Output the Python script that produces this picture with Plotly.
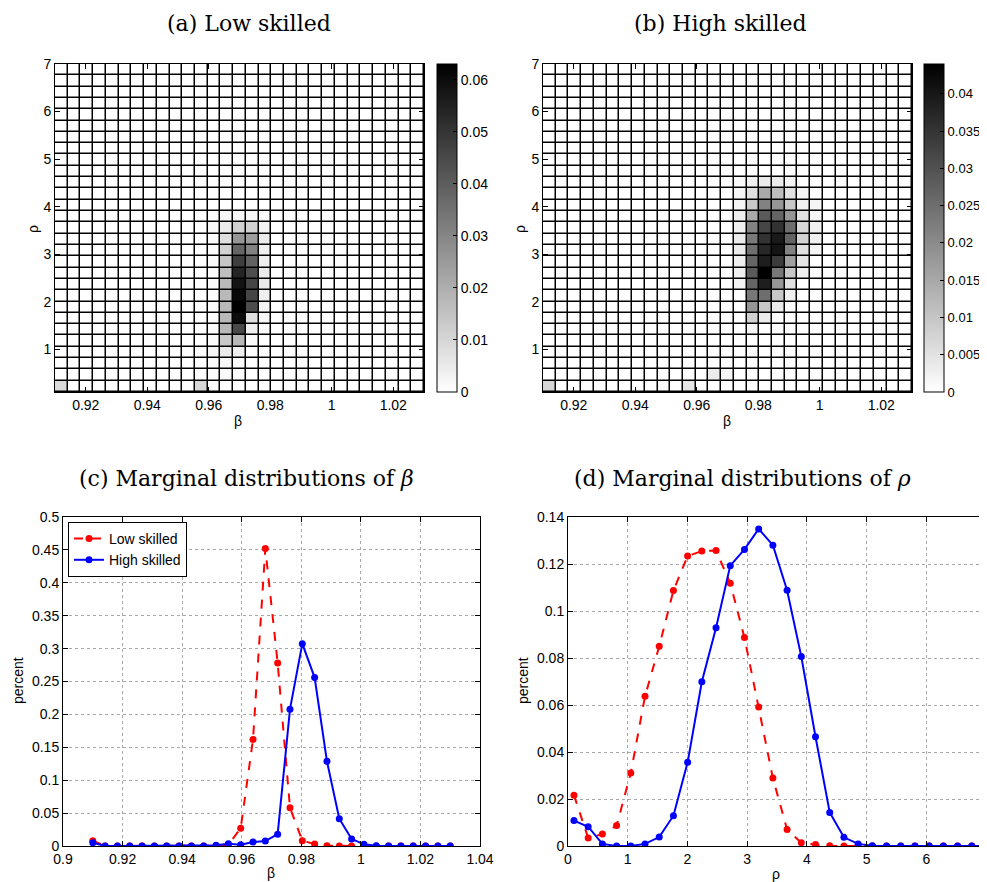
import plotly.graph_objects as go

# ---------------- data ----------------
beta_grid = [0.9100, 0.914138, 0.918276, 0.922414, 0.926552, 0.930690, 0.934828, 0.938966,
             0.943103, 0.947241, 0.951379, 0.955517, 0.959655, 0.963793, 0.967931, 0.972069,
             0.976207, 0.980345, 0.984483, 0.988621, 0.992759, 0.996897, 1.001034, 1.005172,
             1.009310, 1.013448, 1.017586, 1.021724, 1.025862, 1.0300]
rho_grid = [0.1, 0.3379, 0.5759, 0.8138, 1.0517, 1.2897, 1.5276, 1.7655, 2.0034, 2.2414,
            2.4793, 2.7172, 2.9552, 3.1931, 3.4310, 3.6690, 3.9069, 4.1448, 4.3828, 4.6207,
            4.8586, 5.0966, 5.3345, 5.5724, 5.8103, 6.0483, 6.2862, 6.5241, 6.7621, 7.0]

# joint distributions shown by pcolor (rows = rho cells from bottom, cols = beta cells)
z_low = [
    [0.009, 0, 0, 0, 0, 0, 0, 0, 0, 0, 0, 0.010, 0.001, 0, 0, 0, 0, 0, 0, 0, 0, 0, 0, 0, 0, 0, 0, 0, 0],
    [0, 0, 0, 0, 0, 0, 0, 0, 0, 0, 0, 0, 0.001, 0.001, 0, 0, 0, 0, 0, 0, 0, 0, 0, 0, 0, 0, 0, 0, 0],
    [0, 0, 0, 0, 0, 0, 0, 0, 0, 0, 0, 0, 0.0015, 0.002, 0, 0, 0, 0, 0, 0, 0, 0, 0, 0, 0, 0, 0, 0, 0],
    [0, 0, 0, 0, 0, 0, 0, 0, 0, 0, 0, 0, 0.0025, 0.005, 0.004, 0, 0, 0, 0, 0, 0, 0, 0, 0, 0, 0, 0, 0, 0],
    [0, 0, 0, 0, 0, 0, 0, 0, 0, 0, 0, 0, 0.001, 0.0136, 0.0175, 0.001, 0, 0, 0, 0, 0, 0, 0, 0, 0, 0, 0, 0, 0],
    [0, 0, 0, 0, 0, 0, 0, 0, 0, 0, 0, 0, 0.001, 0.0175, 0.045, 0.004, 0.001, 0, 0, 0, 0, 0, 0, 0, 0, 0, 0, 0, 0],
    [0, 0, 0, 0, 0, 0, 0, 0, 0, 0, 0, 0, 0.001, 0.0175, 0.060, 0.008, 0.002, 0, 0, 0, 0, 0, 0, 0, 0, 0, 0, 0, 0],
    [0, 0, 0, 0, 0, 0, 0, 0, 0, 0, 0, 0, 0.001, 0.0175, 0.063, 0.044, 0.003, 0, 0, 0, 0, 0, 0, 0, 0, 0, 0, 0, 0],
    [0, 0, 0, 0, 0, 0, 0, 0, 0, 0, 0, 0, 0.001, 0.0173, 0.061, 0.046, 0.004, 0, 0, 0, 0, 0, 0, 0, 0, 0, 0, 0, 0],
    [0, 0, 0, 0, 0, 0, 0, 0, 0, 0, 0, 0, 0.001, 0.017, 0.058, 0.046, 0.005, 0, 0, 0, 0, 0, 0, 0, 0, 0, 0, 0, 0],
    [0, 0, 0, 0, 0, 0, 0, 0, 0, 0, 0, 0, 0.001, 0.016, 0.054, 0.044, 0.005, 0, 0, 0, 0, 0, 0, 0, 0, 0, 0, 0, 0],
    [0, 0, 0, 0, 0, 0, 0, 0, 0, 0, 0, 0, 0.001, 0.014, 0.048, 0.039, 0.004, 0, 0, 0, 0, 0, 0, 0, 0, 0, 0, 0, 0],
    [0, 0, 0, 0, 0, 0, 0, 0, 0, 0, 0, 0, 0.001, 0.011, 0.038, 0.031, 0.004, 0, 0, 0, 0, 0, 0, 0, 0, 0, 0, 0, 0],
    [0, 0, 0, 0, 0, 0, 0, 0, 0, 0, 0, 0, 0.0015, 0.008, 0.026, 0.024, 0.005, 0, 0, 0, 0, 0, 0, 0, 0, 0, 0, 0, 0],
    [0, 0, 0, 0, 0, 0, 0, 0, 0, 0, 0, 0, 0.002, 0.005, 0.011, 0.011, 0.003, 0, 0, 0, 0, 0, 0, 0, 0, 0, 0, 0, 0],
    [0, 0, 0, 0, 0, 0, 0, 0, 0, 0, 0, 0, 0.001, 0.002, 0.002, 0.002, 0.001, 0, 0, 0, 0, 0, 0, 0, 0, 0, 0, 0, 0],
    [0, 0, 0, 0, 0, 0, 0, 0, 0, 0, 0, 0, 0, 0, 0, 0, 0, 0, 0, 0, 0, 0, 0, 0, 0, 0, 0, 0, 0],
    [0, 0, 0, 0, 0, 0, 0, 0, 0, 0, 0, 0, 0, 0, 0, 0, 0, 0, 0, 0, 0, 0, 0, 0, 0, 0, 0, 0, 0],
    [0, 0, 0, 0, 0, 0, 0, 0, 0, 0, 0, 0, 0, 0, 0, 0, 0, 0, 0, 0, 0, 0, 0, 0, 0, 0, 0, 0, 0],
    [0, 0, 0, 0, 0, 0, 0, 0, 0, 0, 0, 0, 0, 0, 0, 0, 0, 0, 0, 0, 0, 0, 0, 0, 0, 0, 0, 0, 0],
    [0, 0, 0, 0, 0, 0, 0, 0, 0, 0, 0, 0, 0, 0, 0, 0, 0, 0, 0, 0, 0, 0, 0, 0, 0, 0, 0, 0, 0],
    [0, 0, 0, 0, 0, 0, 0, 0, 0, 0, 0, 0, 0, 0, 0, 0, 0, 0, 0, 0, 0, 0, 0, 0, 0, 0, 0, 0, 0],
    [0, 0, 0, 0, 0, 0, 0, 0, 0, 0, 0, 0, 0, 0, 0, 0, 0, 0, 0, 0, 0, 0, 0, 0, 0, 0, 0, 0, 0],
    [0, 0, 0, 0, 0, 0, 0, 0, 0, 0, 0, 0, 0, 0, 0, 0, 0, 0, 0, 0, 0, 0, 0, 0, 0, 0, 0, 0, 0],
    [0, 0, 0, 0, 0, 0, 0, 0, 0, 0, 0, 0, 0, 0, 0, 0, 0, 0, 0, 0, 0, 0, 0, 0, 0, 0, 0, 0, 0],
    [0, 0, 0, 0, 0, 0, 0, 0, 0, 0, 0, 0, 0, 0, 0, 0, 0, 0, 0, 0, 0, 0, 0, 0, 0, 0, 0, 0, 0],
    [0, 0, 0, 0, 0, 0, 0, 0, 0, 0, 0, 0, 0, 0, 0, 0, 0, 0, 0, 0, 0, 0, 0, 0, 0, 0, 0, 0, 0],
    [0, 0, 0, 0, 0, 0, 0, 0, 0, 0, 0, 0, 0, 0, 0, 0, 0, 0, 0, 0, 0, 0, 0, 0, 0, 0, 0, 0, 0],
    [0, 0, 0, 0, 0, 0, 0, 0, 0, 0, 0, 0, 0, 0, 0, 0, 0, 0, 0, 0, 0, 0, 0, 0, 0, 0, 0, 0, 0],
]

z_high = [
    [0.007, 0, 0, 0, 0, 0, 0, 0, 0, 0.001, 0, 0.0043, 0, 0, 0, 0, 0, 0, 0, 0, 0, 0, 0, 0, 0, 0, 0, 0, 0],
    [0, 0, 0, 0, 0, 0, 0, 0, 0, 0, 0, 0, 0, 0.0035, 0.0017, 0, 0, 0, 0, 0, 0, 0, 0, 0, 0, 0, 0, 0, 0],
    [0, 0, 0, 0, 0, 0, 0, 0, 0, 0, 0, 0, 0, 0, 0, 0, 0, 0, 0, 0, 0, 0, 0, 0, 0, 0, 0, 0, 0],
    [0, 0, 0, 0, 0, 0, 0, 0, 0, 0, 0, 0, 0, 0, 0, 0, 0, 0, 0, 0, 0, 0, 0, 0, 0, 0, 0, 0, 0],
    [0, 0, 0, 0, 0, 0, 0, 0, 0, 0, 0, 0, 0, 0, 0, 0, 0, 0, 0, 0, 0, 0, 0, 0, 0, 0, 0, 0, 0],
    [0, 0, 0, 0, 0, 0, 0, 0, 0, 0, 0, 0, 0, 0, 0, 0, 0.0017, 0, 0, 0, 0, 0, 0, 0, 0, 0, 0, 0, 0],
    [0, 0, 0, 0, 0, 0, 0, 0, 0, 0, 0, 0, 0, 0, 0, 0, 0.0078, 0.0035, 0, 0, 0, 0, 0, 0, 0, 0, 0, 0, 0],
    [0, 0, 0, 0, 0, 0, 0, 0, 0, 0, 0, 0, 0, 0, 0, 0, 0.0181, 0.0095, 0.0035, 0, 0, 0, 0, 0, 0, 0, 0, 0, 0],
    [0, 0, 0, 0, 0, 0, 0, 0, 0, 0, 0, 0, 0, 0, 0, 0, 0.0233, 0.025, 0.0095, 0.0026, 0, 0, 0, 0, 0, 0, 0, 0, 0],
    [0, 0, 0, 0, 0, 0, 0, 0, 0, 0, 0, 0, 0, 0, 0, 0.0017, 0.0267, 0.0388, 0.0181, 0.0052, 0, 0, 0, 0, 0, 0, 0, 0, 0],
    [0, 0, 0, 0, 0, 0, 0, 0, 0, 0, 0, 0, 0, 0, 0, 0.0026, 0.0285, 0.044, 0.0233, 0.0095, 0.0026, 0, 0, 0, 0, 0, 0, 0, 0],
    [0, 0, 0, 0, 0, 0, 0, 0, 0, 0, 0, 0, 0, 0, 0, 0.0026, 0.0267, 0.0388, 0.0336, 0.0164, 0.0043, 0, 0, 0, 0, 0, 0, 0, 0],
    [0, 0, 0, 0, 0, 0, 0, 0, 0, 0, 0, 0, 0, 0, 0, 0.0035, 0.025, 0.0371, 0.0405, 0.0216, 0.0052, 0.0017, 0, 0, 0, 0, 0, 0, 0],
    [0, 0, 0, 0, 0, 0, 0, 0, 0, 0, 0, 0, 0, 0, 0, 0.0035, 0.0233, 0.0354, 0.0397, 0.0267, 0.0078, 0.0026, 0, 0, 0, 0, 0, 0, 0],
    [0, 0, 0, 0, 0, 0, 0, 0, 0, 0, 0, 0, 0, 0, 0, 0.0026, 0.0216, 0.0319, 0.0354, 0.025, 0.0069, 0.0026, 0, 0, 0, 0, 0, 0, 0],
    [0, 0, 0, 0, 0, 0, 0, 0, 0, 0, 0, 0, 0, 0, 0, 0.0026, 0.0147, 0.0285, 0.0267, 0.0181, 0.0052, 0.0017, 0, 0, 0, 0, 0, 0, 0],
    [0, 0, 0, 0, 0, 0, 0, 0, 0, 0, 0, 0, 0, 0, 0, 0.0017, 0.0095, 0.0216, 0.0181, 0.0095, 0.0026, 0.0017, 0, 0, 0, 0, 0, 0, 0],
    [0, 0, 0, 0, 0, 0, 0, 0, 0, 0, 0, 0, 0, 0, 0, 0.0017, 0.0052, 0.0147, 0.0112, 0.0052, 0.0017, 0, 0, 0, 0, 0, 0, 0, 0],
    [0, 0, 0, 0, 0, 0, 0, 0, 0, 0, 0, 0, 0, 0, 0, 0.001, 0.0026, 0.0035, 0.0035, 0.0017, 0, 0, 0, 0, 0, 0, 0, 0, 0],
    [0, 0, 0, 0, 0, 0, 0, 0, 0, 0, 0, 0, 0, 0, 0, 0, 0, 0, 0, 0, 0, 0, 0, 0, 0, 0, 0, 0, 0],
    [0, 0, 0, 0, 0, 0, 0, 0, 0, 0, 0, 0, 0, 0, 0, 0, 0, 0, 0, 0, 0, 0, 0, 0, 0, 0, 0, 0, 0],
    [0, 0, 0, 0, 0, 0, 0, 0, 0, 0, 0, 0, 0, 0, 0, 0, 0, 0, 0, 0, 0, 0, 0, 0, 0, 0, 0, 0, 0],
    [0, 0, 0, 0, 0, 0, 0, 0, 0, 0, 0, 0, 0, 0, 0, 0, 0, 0, 0, 0, 0, 0, 0, 0, 0, 0, 0, 0, 0],
    [0, 0, 0, 0, 0, 0, 0, 0, 0, 0, 0, 0, 0, 0, 0, 0, 0, 0, 0, 0, 0, 0, 0, 0, 0, 0, 0, 0, 0],
    [0, 0, 0, 0, 0, 0, 0, 0, 0, 0, 0, 0, 0, 0, 0, 0, 0, 0, 0, 0, 0, 0, 0, 0, 0, 0, 0, 0, 0],
    [0, 0, 0, 0, 0, 0, 0, 0, 0, 0, 0, 0, 0, 0, 0, 0, 0, 0, 0, 0, 0, 0, 0, 0, 0, 0, 0, 0, 0],
    [0, 0, 0, 0, 0, 0, 0, 0, 0, 0, 0, 0, 0, 0, 0, 0, 0, 0, 0, 0, 0, 0, 0, 0, 0, 0, 0, 0, 0],
    [0, 0, 0, 0, 0, 0, 0, 0, 0, 0, 0, 0, 0, 0, 0, 0, 0, 0, 0, 0, 0, 0, 0, 0, 0, 0, 0, 0, 0],
    [0, 0, 0, 0, 0, 0, 0, 0, 0, 0, 0, 0, 0, 0, 0, 0, 0, 0, 0, 0, 0, 0, 0, 0, 0, 0, 0, 0, 0],
]

# marginal distributions
beta_low = [0.008, 0, 0, 0, 0, 0, 0, 0, 0, 0, 0.0005, 0.002, 0.027, 0.162, 0.452, 0.278,
            0.058, 0.008, 0.003, 0.0005, 0, 0, 0, 0, 0, 0, 0, 0, 0, 0]
beta_high = [0.005, 0, 0, 0, 0, 0, 0, 0, 0, 0, 0.001, 0.0035, 0.002, 0.006, 0.0076, 0.018,
             0.208, 0.3075, 0.256, 0.1287, 0.0415, 0.0106, 0.0025, 0.0005, 0, 0, 0, 0, 0, 0]
rho_low = [0.0216, 0.0034, 0.0051, 0.0087, 0.0311, 0.0637, 0.085, 0.1087, 0.1234, 0.1255,
           0.1257, 0.1118, 0.0887, 0.0592, 0.0289, 0.007, 0.0014, 0.0006, 0.0001, 0,
           0, 0, 0, 0, 0, 0, 0, 0, 0, 0]
rho_high = [0.0108, 0.0082, 0.0009, 0, 0, 0.0009, 0.0038, 0.0129, 0.0356, 0.0699,
            0.0929, 0.1193, 0.1262, 0.1349, 0.128, 0.1088, 0.0806, 0.0465, 0.0143, 0.0037,
            0.0009, 0.0001, 0, 0, 0, 0, 0, 0, 0, 0]

series_names = ["Low skilled", "High skilled"]
titles = ["(a) Low skilled", "(b) High skilled",
          "(c) Marginal distributions of <i>β</i>", "(d) Marginal distributions of <i>ρ</i>"]
axis_titles = ["ρ", "β", "ρ", "β", "percent", "β", "percent", "ρ"]

heat_xticks = [0.92, 0.94, 0.96, 0.98, 1.0, 1.02]
heat_xtext = ["0.92", "0.94", "0.96", "0.98", "1", "1.02"]
heat_yticks = [1, 2, 3, 4, 5, 6, 7]
cb_low_ticks = [0, 0.01, 0.02, 0.03, 0.04, 0.05, 0.06]
cb_low_text = ["0", "0.01", "0.02", "0.03", "0.04", "0.05", "0.06"]
cb_high_ticks = [0, 0.005, 0.01, 0.015, 0.02, 0.025, 0.03, 0.035, 0.04]
cb_high_text = ["0", "0.005", "0.01", "0.015", "0.02", "0.025", "0.03", "0.035", "0.04"]
c_xticks = [0.9, 0.92, 0.94, 0.96, 0.98, 1.0, 1.02, 1.04]
c_xtext = ["0.9", "0.92", "0.94", "0.96", "0.98", "1", "1.02", "1.04"]
c_yticks = [0, 0.05, 0.1, 0.15, 0.2, 0.25, 0.3, 0.35, 0.4, 0.45, 0.5]
c_ytext = ["0", "0.05", "0.1", "0.15", "0.2", "0.25", "0.3", "0.35", "0.4", "0.45", "0.5"]
d_xticks = [0, 1, 2, 3, 4, 5, 6, 7]
d_yticks = [0, 0.02, 0.04, 0.06, 0.08, 0.1, 0.12, 0.14]
d_ytext = ["0", "0.02", "0.04", "0.06", "0.08", "0.1", "0.12", "0.14"]

# ---------------- figure ----------------
OFF = 8                      # page body margin of the browser
W, H = 987 - OFF, 882 - OFF
TICKFONT = dict(family="Liberation Sans, Arial, sans-serif", size=14, color="black")
TITLEFONT = dict(family="DejaVu Serif, serif", size=22, color="black")


def fx(p):  # window pixel -> paper fraction
    return (p - OFF) / W


def fy(p):
    return 1 - (p - OFF) / H


dom = {
    "a": ([fx(55), fx(424)], [fy(392), fy(64)]),
    "b": ([fx(543), fx(912)], [fy(392), fy(64)]),
    "c": ([fx(63), fx(480)], [fy(846), fy(517)]),
    "d": ([fx(568), min(1.0, fx(986))], [fy(846), fy(517)]),
}

fig = go.Figure()
gray = [[0, "#ffffff"], [1, "#000000"]]


def cbar(xpx, ticks, text, size):
    return dict(x=fx(xpx), xanchor="left", y=fy(228), yanchor="middle",
                len=328 / H, lenmode="fraction", thickness=20, thicknessmode="pixels",
                outlinecolor="black", outlinewidth=1, ticks="inside", ticklen=4,
                tickcolor="black", tickvals=ticks, ticktext=text,
                tickfont=dict(TICKFONT, size=size), xpad=0, ypad=0)


fig.add_trace(go.Heatmap(
    x=beta_grid, y=rho_grid, z=z_low, xaxis="x", yaxis="y",
    colorscale=gray, zmin=0, xgap=1.5, ygap=1.5, hoverinfo="skip",
    colorbar=cbar(437, cb_low_ticks, cb_low_text, 14),
))
fig.add_trace(go.Heatmap(
    x=beta_grid, y=rho_grid, z=z_high, xaxis="x2", yaxis="y2",
    colorscale=gray, zmin=0, xgap=1.5, ygap=1.5, hoverinfo="skip",
    colorbar=cbar(924, cb_high_ticks, cb_high_text, 13),
))

red = "#ff0000"
blue = "#0000ff"
fig.add_trace(go.Scatter(x=beta_grid, y=beta_low, xaxis="x3", yaxis="y3", name=series_names[0],
                         mode="lines+markers", line=dict(color=red, width=2, dash="dash"),
                         marker=dict(color=red, size=7)))
fig.add_trace(go.Scatter(x=beta_grid, y=beta_high, xaxis="x3", yaxis="y3", name=series_names[1],
                         mode="lines+markers", line=dict(color=blue, width=2),
                         marker=dict(color=blue, size=7)))
fig.add_trace(go.Scatter(x=rho_grid, y=rho_low, xaxis="x4", yaxis="y4", name=series_names[0],
                         mode="lines+markers", line=dict(color=red, width=2, dash="dash"),
                         marker=dict(color=red, size=7), showlegend=False))
fig.add_trace(go.Scatter(x=rho_grid, y=rho_high, xaxis="x4", yaxis="y4", name=series_names[1],
                         mode="lines+markers", line=dict(color=blue, width=2),
                         marker=dict(color=blue, size=7), showlegend=False))

axis_common = dict(showline=True, linecolor="black", linewidth=1, mirror="ticks",
                   ticks="inside", ticklen=5, tickcolor="black", tickfont=TICKFONT,
                   zeroline=False, automargin=False)

layout = dict(
    template="none",
    width=W, height=H, margin=dict(l=0, r=0, t=0, b=0, autoexpand=False),
    paper_bgcolor="white", plot_bgcolor="white", showlegend=True,
    font=TICKFONT,
    legend=dict(x=fx(68), y=fy(522), xanchor="left", yanchor="top",
                bgcolor="white", bordercolor="black", borderwidth=1,
                font=dict(family="Liberation Sans, Arial, sans-serif", size=14, color="black"),
                tracegroupgap=0, itemwidth=30),
)

layout["xaxis"] = dict(axis_common, domain=dom["a"][0], anchor="y", range=[0.91, 1.03],
                       tickvals=heat_xticks, ticktext=heat_xtext, showgrid=False)
layout["yaxis"] = dict(axis_common, domain=dom["a"][1], anchor="x", range=[0.1, 7],
                       tickvals=heat_yticks, showgrid=False)
layout["xaxis2"] = dict(axis_common, domain=dom["b"][0], anchor="y2", range=[0.91, 1.03],
                        tickvals=heat_xticks, ticktext=heat_xtext, showgrid=False)
layout["yaxis2"] = dict(axis_common, domain=dom["b"][1], anchor="x2", range=[0.1, 7],
                        tickvals=heat_yticks, showgrid=False)

grid_style = dict(showgrid=True, gridcolor="#a8a8a8", gridwidth=1, griddash="dot")
layout["xaxis3"] = dict(axis_common, **grid_style, domain=dom["c"][0], anchor="y3",
                        range=[0.9, 1.04], tickvals=c_xticks, ticktext=c_xtext)
layout["yaxis3"] = dict(axis_common, **grid_style, domain=dom["c"][1], anchor="x3",
                        range=[0, 0.5], tickvals=c_yticks, ticktext=c_ytext)
layout["xaxis4"] = dict(axis_common, **grid_style, domain=dom["d"][0], anchor="y4",
                        range=[0, 7], tickvals=d_xticks)
layout["yaxis4"] = dict(axis_common, **grid_style, domain=dom["d"][1], anchor="x4",
                        range=[0, 0.14], tickvals=d_yticks, ticktext=d_ytext)

fig.update_layout(**layout)

# black backdrop under heatmaps -> grid lines between cells
for xr, yr in (("x", "y"), ("x2", "y2")):
    fig.add_shape(type="rect", xref=f"{xr} domain", yref=f"{yr} domain", x0=0, x1=1, y0=0, y1=1,
                  fillcolor="black", line=dict(width=0), layer="below")

# subfigure captions
caption_pos = [(249, 23), (720, 23), (246, 478), (742, 478)]
for text, (cx, cy) in zip(titles, caption_pos):
    fig.add_annotation(text=text, x=fx(cx), y=fy(cy), xref="paper", yref="paper",
                       xanchor="center", yanchor="middle", showarrow=False, font=TITLEFONT)

# axis titles (rotated for y axes)
axis_title_pos = [(33, 229, -90), (238, 421, 0), (520, 229, -90), (727, 421, 0),
                  (18, 681, -90), (271, 873, 0), (523, 681, -90), (776, 874, 0)]
for text, (cx, cy, ang) in zip(axis_titles, axis_title_pos):
    fig.add_annotation(text=text, x=fx(cx), y=fy(cy), xref="paper", yref="paper",
                       xanchor="center", yanchor="middle", showarrow=False,
                       textangle=ang, font=TICKFONT)

fig.write_html("out.html")
